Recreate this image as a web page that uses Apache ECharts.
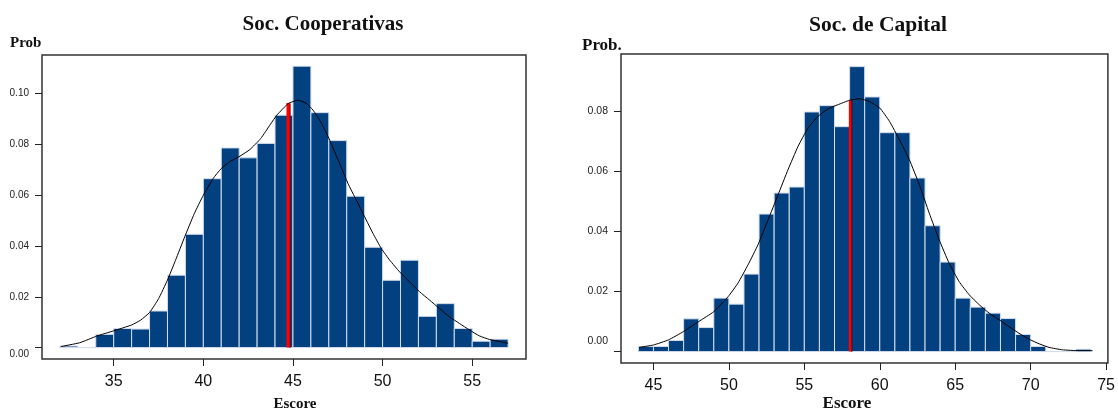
<!DOCTYPE html>
<html>
<head>
<meta charset="utf-8">
<script src="https://cdn.jsdelivr.net/npm/echarts@6/dist/echarts.min.js"></script>
<style>
  html, body { margin: 0; padding: 0; background: #fff; }
  #chart { width: 1118px; height: 410px; }
</style>
</head>
<body>
<div id="chart"></div>
<script>
// histogram bins (width 1), first bin start
const coopBinStart = 32;
const coopProb = [0.0006, 0, 0.0052, 0.0075, 0.0073, 0.0144, 0.0285, 0.0446, 0.0665, 0.0786,
  0.0747, 0.0804, 0.0915, 0.1108, 0.0925, 0.0815, 0.0596, 0.0395, 0.0265, 0.0344,
  0.0123, 0.0173, 0.0075, 0.0025, 0.0033];

const capBinStart = 44;
const capProb = [0.0017, 0.0017, 0.0037, 0.0109, 0.0080, 0.0178, 0.0158, 0.0258, 0.0458, 0.0528,
  0.0548, 0.0798, 0.0819, 0.0749, 0.0949, 0.0848, 0.0729, 0.0729, 0.0578, 0.0419,
  0.0298, 0.0178, 0.0148, 0.0128, 0.0110, 0.0057, 0.0017, 0, 0, 0.0008];

// density curves
const coopDensX = [32.05, 33.1, 34.05, 35, 36, 36.5, 37, 37.5, 38, 38.45,
  38.96, 39.5, 40, 40.55, 41, 41.5, 42.05, 42.6, 43.2, 43.75,
  44.1, 44.74, 45.29, 45.75, 46.12, 46.59, 47.05, 47.6, 48.07, 48.53,
  49, 49.46, 49.93, 50.4, 50.95, 51.5, 52.06, 52.62, 53.17, 53.73,
  54.29, 54.85, 55.4, 55.96, 56.5, 57];
const coopDensY = [0.0004, 0.0019, 0.0045, 0.0066, 0.0089, 0.0108, 0.0138, 0.0192, 0.0266, 0.0344,
  0.0436, 0.0528, 0.0600, 0.0666, 0.0705, 0.0733, 0.0754, 0.0780, 0.0823, 0.0880,
  0.0915, 0.0961, 0.0974, 0.0961, 0.0935, 0.0883, 0.0817, 0.0725, 0.0646, 0.0581,
  0.0515, 0.0450, 0.0390, 0.0344, 0.0298, 0.0259, 0.0220, 0.0187, 0.0154, 0.0121,
  0.0095, 0.0069, 0.0046, 0.0032, 0.0024, 0.0017];

const capDensX = [44.05, 45, 46, 47, 48, 49, 49.95, 50.6, 51.27, 51.93,
  52.6, 53.26, 53.92, 54.58, 55.24, 55.9, 56.56, 57.22, 58, 58.65,
  59.32, 60, 60.64, 61.3, 61.96, 62.62, 63.28, 63.94, 64.6, 65.26,
  65.93, 66.59, 67.25, 67.91, 68.57, 69.23, 69.9, 70.56, 71.22, 72.1,
  73.2, 74.1];
const capDensY = [0.0014, 0.0022, 0.0039, 0.0067, 0.0100, 0.0133, 0.0183, 0.0228, 0.0289, 0.0356,
  0.0439, 0.0522, 0.0606, 0.0683, 0.0744, 0.0783, 0.0808, 0.0822, 0.0837, 0.0842,
  0.0833, 0.0811, 0.0767, 0.0706, 0.0639, 0.0556, 0.0461, 0.0372, 0.0294, 0.0233,
  0.0189, 0.0156, 0.0128, 0.0106, 0.0083, 0.0061, 0.0041, 0.0026, 0.0014, 0.0006,
  0.0003, 0.0003];

// red mean line + dotted line: [x, top]
const coopMean = [44.75, 0.0963];
const coopDotted = [44.84, 0.0958];
const capMean = [58.05, 0.0837];
const capDotted = [58.15, 0.0837];

// tick labels
const coopXTicks = [35, 40, 45, 50, 55];
const coopYTicks = [0, 0.02, 0.04, 0.06, 0.08, 0.10];
const capXTicks = [45, 50, 55, 60, 65, 70, 75];
const capYTicks = [0, 0.02, 0.04, 0.06, 0.08];

const barColor = '#03407f';

function binData(start, probs) {
    return probs.map(function (p, i) { return [start + i, start + i + 1, p]; });
}
function pairs(xs, ys) {
    return xs.map(function (x, i) { return [x, ys[i]]; });
}

function renderBin(params, api) {
    const p0 = api.coord([api.value(0), api.value(2)]);
    const p1 = api.coord([api.value(1), 0]);
    return {
        type: 'rect',
        shape: { x: p0[0], y: p0[1], width: p1[0] - p0[0], height: p1[1] - p0[1] },
        style: { fill: barColor, stroke: '#d3dded', lineWidth: 1 }
    };
}

function xAxisOf(idx, min, max, ticks) {
    return {
        type: 'value', gridIndex: idx, min: min, max: max,
        axisLine: { show: false, onZero: false },
        splitLine: { show: false },
        axisTick: { show: true, length: 7, customValues: ticks, lineStyle: { color: '#222' } },
        axisLabel: { customValues: ticks, fontSize: 16, color: '#111', margin: 15, fontFamily: 'Liberation Sans' }
    };
}
function yAxisOf(idx, min, max, ticks, zeroPad, fs) {
    return {
        type: 'value', gridIndex: idx, min: min, max: max,
        axisLine: { show: false, onZero: false },
        splitLine: { show: false },
        axisTick: { show: true, length: 7, customValues: ticks, lineStyle: { color: '#222' } },
        axisLabel: {
            customValues: ticks, fontSize: fs, color: '#222', margin: 13, fontFamily: 'Liberation Sans',
            formatter: function (v) { return v === 0 ? '{z|0.00}' : v.toFixed(2); },
            rich: { z: { fontSize: fs, color: '#222', fontFamily: 'Liberation Sans', padding: zeroPad } }
        }
    };
}

const serif = 'Liberation Serif';
function label(text, x, y, size, align) {
    return {
        text: text, left: x, top: y, textAlign: align || 'left', padding: 0,
        textStyle: { fontFamily: serif, fontWeight: 'bold', fontSize: size, color: '#111' }
    };
}

const option = {
    animation: false,
    title: [
        label('Soc. Cooperativas', 323, 14, 21, 'center'),
        label('Soc. de Capital', 878, 14, 21.5, 'center'),
        label('Prob', 10, 36, 15),
        label('Prob.', 582, 37, 17),
        label('Escore', 295, 397, 15, 'center'),
        label('Escore', 847, 395, 17, 'center')
    ],
    grid: [
        { left: 42, top: 55, width: 484, height: 304, show: true, borderColor: '#333', borderWidth: 1.5 },
        { left: 621, top: 54, width: 490, height: 309, show: true, borderColor: '#333', borderWidth: 1.5 }
    ],
    xAxis: [
        xAxisOf(0, 31, 58, coopXTicks),
        xAxisOf(1, 42.85, 75.12, capXTicks)
    ],
    yAxis: [
        yAxisOf(0, -0.0045, 0.1152, coopYTicks, [14, 0, 0, 0], 10),
        yAxisOf(1, -0.0038, 0.0991, capYTicks, [0, 0, 20, 0], 10.5)
    ],
    series: [
        { type: 'custom', xAxisIndex: 0, yAxisIndex: 0, renderItem: renderBin, data: binData(coopBinStart, coopProb) },
        { type: 'custom', xAxisIndex: 1, yAxisIndex: 1, renderItem: renderBin, data: binData(capBinStart, capProb) },
        {
            type: 'line', xAxisIndex: 0, yAxisIndex: 0, showSymbol: false, smooth: 0.15,
            lineStyle: { color: '#000', width: 1 }, data: pairs(coopDensX, coopDensY), z: 5
        },
        {
            type: 'line', xAxisIndex: 1, yAxisIndex: 1, showSymbol: false, smooth: 0.15,
            lineStyle: { color: '#000', width: 1 }, data: pairs(capDensX, capDensY), z: 5
        },
        {
            type: 'line', xAxisIndex: 0, yAxisIndex: 0, showSymbol: false,
            lineStyle: { color: '#ff0000', width: 4 }, data: [[coopMean[0], 0], coopMean], z: 4
        },
        {
            type: 'line', xAxisIndex: 0, yAxisIndex: 0, showSymbol: false,
            lineStyle: { color: '#000', width: 1, type: 'dotted' }, data: [[coopDotted[0], 0], coopDotted], z: 4
        },
        {
            type: 'line', xAxisIndex: 1, yAxisIndex: 1, showSymbol: false,
            lineStyle: { color: '#ff0000', width: 3 }, data: [[capMean[0], 0], capMean], z: 4
        },
        {
            type: 'line', xAxisIndex: 1, yAxisIndex: 1, showSymbol: false,
            lineStyle: { color: '#000', width: 1, type: 'dotted' }, data: [[capDotted[0], 0], capDotted], z: 4
        }
    ]
};

const chart = echarts.init(document.getElementById('chart'));
chart.setOption(option);
</script>
</body>
</html>
